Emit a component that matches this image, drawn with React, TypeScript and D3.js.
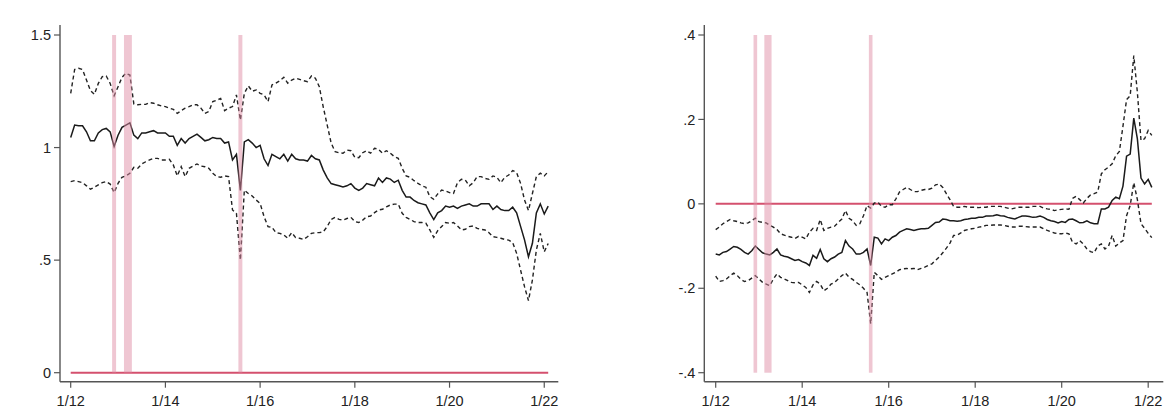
import React from "react";
import * as d3 from "d3";

// monthly index 0 = Jan 2012 ... 121 = Feb 2022
const xTickIdx = [0, 24, 48, 72, 96, 120];
const xTickLabels = ["1/12", "1/14", "1/16", "1/18", "1/20", "1/22"];

const leftYTicks = [0, 0.5, 1, 1.5];
const leftYLabels = ["0", ".5", "1", "1.5"];
const rightYTicks = [-0.4, -0.2, 0, 0.2, 0.4];
const rightYLabels = ["-.4", "-.2", "0", ".2", ".4"];

// shaded months (start, end indices)
const shadeStart = [11, 14, 43];
const shadeEnd = [11, 15, 43];

const midL = [1.045, 1.1, 1.097, 1.097, 1.07, 1.03, 1.03, 1.065, 1.08, 1.085, 1.07, 1.005, 1.055, 1.09, 1.1, 1.11, 1.055, 1.04, 1.065, 1.065, 1.07, 1.075, 1.065, 1.065, 1.065, 1.05, 1.05, 1.01, 1.04, 1.02, 1.04, 1.05, 1.06, 1.045, 1.03, 1.035, 1.045, 1.04, 1.04, 1.02, 1.025, 0.945, 0.97, 0.81, 1.025, 1.035, 1.02, 1.0, 1.01, 0.95, 0.92, 0.97, 0.96, 0.95, 0.97, 0.94, 0.97, 0.95, 0.945, 0.945, 0.94, 0.965, 0.95, 0.945, 0.9, 0.865, 0.84, 0.835, 0.83, 0.825, 0.83, 0.84, 0.82, 0.81, 0.82, 0.84, 0.835, 0.83, 0.865, 0.845, 0.865, 0.86, 0.845, 0.855, 0.81, 0.78, 0.78, 0.765, 0.755, 0.75, 0.745, 0.71, 0.68, 0.71, 0.72, 0.74, 0.735, 0.74, 0.73, 0.74, 0.745, 0.75, 0.74, 0.74, 0.75, 0.75, 0.75, 0.725, 0.74, 0.725, 0.72, 0.72, 0.735, 0.71, 0.65, 0.59, 0.515, 0.575, 0.71, 0.75, 0.705, 0.74];
const upL = [1.241, 1.347, 1.352, 1.347, 1.3, 1.253, 1.236, 1.285, 1.315, 1.318, 1.285, 1.23, 1.27, 1.312, 1.33, 1.322, 1.194, 1.19, 1.192, 1.192, 1.2, 1.197, 1.19, 1.185, 1.182, 1.175, 1.17, 1.152, 1.164, 1.175, 1.182, 1.19, 1.19, 1.175, 1.152, 1.16, 1.204, 1.21, 1.218, 1.164, 1.175, 1.182, 1.234, 1.122, 1.241, 1.274, 1.25, 1.256, 1.241, 1.234, 1.204, 1.278, 1.286, 1.297, 1.312, 1.286, 1.3, 1.308, 1.303, 1.297, 1.293, 1.318, 1.308, 1.27, 1.18, 1.1, 1.02, 0.982, 0.977, 0.975, 0.989, 0.986, 0.957, 0.955, 0.977, 0.986, 0.975, 0.997, 0.992, 0.975, 0.986, 0.975, 0.96, 0.952, 0.908, 0.874, 0.868, 0.853, 0.841, 0.83, 0.824, 0.782, 0.77, 0.794, 0.811, 0.807, 0.8, 0.796, 0.844, 0.859, 0.856, 0.83, 0.844, 0.871, 0.871, 0.863, 0.859, 0.874, 0.868, 0.844, 0.868, 0.878, 0.898, 0.889, 0.841, 0.767, 0.72, 0.796, 0.871, 0.886, 0.874, 0.893];
const loL = [0.849, 0.853, 0.849, 0.844, 0.83, 0.815, 0.824, 0.834, 0.844, 0.849, 0.838, 0.8, 0.841, 0.868, 0.874, 0.886, 0.912, 0.908, 0.927, 0.937, 0.945, 0.952, 0.952, 0.945, 0.945, 0.948, 0.923, 0.874, 0.915, 0.871, 0.908, 0.918, 0.927, 0.918, 0.915, 0.908, 0.886, 0.871, 0.868, 0.874, 0.871, 0.723, 0.708, 0.5, 0.811, 0.796, 0.785, 0.767, 0.752, 0.693, 0.649, 0.646, 0.622, 0.619, 0.612, 0.597, 0.622, 0.6, 0.597, 0.592, 0.604, 0.619, 0.622, 0.622, 0.626, 0.649, 0.681, 0.69, 0.681, 0.678, 0.685, 0.69, 0.671, 0.667, 0.678, 0.693, 0.696, 0.711, 0.723, 0.726, 0.737, 0.745, 0.749, 0.749, 0.708, 0.69, 0.681, 0.671, 0.667, 0.667, 0.664, 0.634, 0.601, 0.631, 0.649, 0.667, 0.664, 0.667, 0.652, 0.634, 0.637, 0.649, 0.652, 0.641, 0.637, 0.634, 0.622, 0.604, 0.601, 0.597, 0.592, 0.589, 0.578, 0.53, 0.456, 0.382, 0.32, 0.412, 0.545, 0.619, 0.537, 0.574];

const midR = [-0.119, -0.121, -0.115, -0.113, -0.107, -0.101, -0.103, -0.108, -0.115, -0.119, -0.111, -0.1, -0.108, -0.116, -0.119, -0.121, -0.115, -0.107, -0.121, -0.124, -0.126, -0.13, -0.134, -0.132, -0.137, -0.14, -0.146, -0.122, -0.129, -0.108, -0.13, -0.137, -0.13, -0.126, -0.119, -0.115, -0.087, -0.1, -0.107, -0.119, -0.119, -0.115, -0.107, -0.146, -0.079, -0.081, -0.095, -0.083, -0.087, -0.079, -0.075, -0.067, -0.063, -0.059, -0.061, -0.063, -0.061, -0.059, -0.059, -0.058, -0.051, -0.044, -0.043, -0.036, -0.037, -0.04, -0.04, -0.041, -0.04, -0.037, -0.036, -0.034, -0.034, -0.032, -0.032, -0.029, -0.029, -0.028, -0.026, -0.028, -0.029, -0.032, -0.034, -0.036, -0.032, -0.029, -0.029, -0.03, -0.032, -0.031, -0.029, -0.032, -0.037, -0.04, -0.042, -0.045, -0.042, -0.044, -0.037, -0.036, -0.04, -0.045, -0.044, -0.04, -0.045, -0.047, -0.047, -0.012, -0.012, -0.008, 0.008, 0.016, 0.012, 0.042, 0.113, 0.118, 0.203, 0.154, 0.061, 0.047, 0.058, 0.039];
const upR = [-0.061, -0.055, -0.047, -0.042, -0.037, -0.04, -0.042, -0.045, -0.047, -0.045, -0.04, -0.034, -0.042, -0.044, -0.045, -0.051, -0.055, -0.061, -0.071, -0.074, -0.077, -0.079, -0.082, -0.077, -0.079, -0.083, -0.067, -0.058, -0.063, -0.037, -0.063, -0.058, -0.055, -0.053, -0.044, -0.036, -0.016, -0.034, -0.04, -0.051, -0.047, -0.028, -0.004, -0.01, 0.002, 0.004, -0.006, -0.008, -0.002, -0.002, 0.012, 0.028, 0.034, 0.039, 0.034, 0.029, 0.029, 0.032, 0.034, 0.034, 0.037, 0.045, 0.047, 0.039, 0.024, 0.01, -0.006, -0.008, -0.008, -0.006, -0.008, -0.008, -0.008, -0.009, -0.008, -0.008, -0.006, -0.006, -0.006, -0.006, -0.008, -0.01, -0.012, -0.01, -0.008, -0.008, -0.008, -0.008, -0.006, -0.006, -0.006, -0.01, -0.012, -0.013, -0.016, -0.014, -0.013, -0.012, -0.013, 0.013, 0.018, 0.01, 0.002, 0.013, 0.021, 0.024, 0.028, 0.071, 0.081, 0.087, 0.095, 0.114, 0.124, 0.184, 0.247, 0.256, 0.351, 0.264, 0.15, 0.154, 0.174, 0.162];
const loR = [-0.171, -0.184, -0.182, -0.178, -0.17, -0.164, -0.17, -0.179, -0.184, -0.182, -0.176, -0.17, -0.178, -0.186, -0.19, -0.194, -0.178, -0.166, -0.174, -0.178, -0.182, -0.186, -0.187, -0.186, -0.192, -0.198, -0.21, -0.192, -0.184, -0.19, -0.206, -0.2, -0.19, -0.186, -0.178, -0.17, -0.164, -0.174, -0.179, -0.186, -0.192, -0.2, -0.21, -0.284, -0.162, -0.17, -0.179, -0.174, -0.17, -0.166, -0.162, -0.156, -0.154, -0.153, -0.154, -0.153, -0.156, -0.153, -0.15, -0.146, -0.142, -0.134, -0.126, -0.116, -0.105, -0.093, -0.075, -0.074, -0.069, -0.063, -0.061, -0.059, -0.058, -0.055, -0.054, -0.051, -0.051, -0.05, -0.05, -0.05, -0.051, -0.053, -0.055, -0.055, -0.053, -0.053, -0.054, -0.055, -0.055, -0.055, -0.055, -0.059, -0.063, -0.066, -0.069, -0.071, -0.071, -0.069, -0.071, -0.091, -0.095, -0.087, -0.095, -0.107, -0.113, -0.116, -0.1, -0.095, -0.107, -0.1, -0.075, -0.1, -0.093, -0.087, -0.028, -0.004, 0.05, 0.01, -0.047, -0.058, -0.07, -0.08];

const FONT = "'Liberation Sans', Arial, sans-serif";

type PanelProps = {
  x0: number; x1: number; yAxisX: number; axisRight: number;
  yDomain: [number, number]; yTicks: number[]; yLabels: string[];
  mid: number[]; up: number[]; lo: number[];
};

function Panel(p: PanelProps) {
  const n = p.mid.length;
  const x = d3.scaleLinear().domain([0, n - 1]).range([p.x0, p.x1]);
  const y = d3.scaleLinear().domain(p.yDomain).range([372.7, 35]);
  const line = d3.line<number>().x((_, i) => x(i)).y((d) => y(d));
  const axisY = 381.7;
  const monthW = x(1) - x(0);
  return (
    <g>
      <line x1={x(0)} x2={x(n - 1)} y1={y(0)} y2={y(0)} stroke="#d4506e" strokeWidth={2} />
      <path d={line(p.up) || ""} fill="none" stroke="#222" strokeWidth={1.4} strokeDasharray="4,3" />
      <path d={line(p.lo) || ""} fill="none" stroke="#222" strokeWidth={1.4} strokeDasharray="4,3" />
      <path d={line(p.mid) || ""} fill="none" stroke="#1a1a1a" strokeWidth={1.5} />
      {shadeStart.map((s, k) => (
        <rect key={k} x={x(s) - monthW / 2} width={x(shadeEnd[k]) - x(s) + monthW}
          y={y(p.yDomain[1])} height={y(p.yDomain[0]) - y(p.yDomain[1])}
          fill="#df8ea5" opacity={0.5} />
      ))}
      <line x1={p.yAxisX} x2={p.yAxisX} y1={25} y2={axisY} stroke="#555" strokeWidth={1.4} />
      <line x1={p.yAxisX} x2={p.axisRight} y1={axisY} y2={axisY} stroke="#555" strokeWidth={1.4} />
      {p.yTicks.map((t, k) => (
        <g key={k}>
          <line x1={p.yAxisX - 6} x2={p.yAxisX} y1={y(t)} y2={y(t)} stroke="#555" strokeWidth={1.2} />
          <text x={p.yAxisX - 9} y={y(t)} dy="0.35em" textAnchor="end" fontFamily={FONT} fontSize={14.5} fill="#222">{p.yLabels[k]}</text>
        </g>
      ))}
      {xTickIdx.map((t, k) => (
        <g key={k}>
          <line x1={x(t)} x2={x(t)} y1={axisY} y2={axisY + 6} stroke="#555" strokeWidth={1.2} />
          <text x={x(t)} y={axisY + 24} textAnchor="middle" fontFamily={FONT} fontSize={14.5} fill="#222">{xTickLabels[k]}</text>
        </g>
      ))}
    </g>
  );
}

export default function App() {
  return (
    <svg width={1173} height={414} style={{ position: "absolute", left: 0, top: 0, background: "#fff" }}>
      <rect x={0} y={0} width={1173} height={414} fill="#fff" />
      <Panel x0={70.7} x1={548.2} yAxisX={60} axisRight={558.3}
        yDomain={[0, 1.5]} yTicks={leftYTicks} yLabels={leftYLabels}
        mid={midL} up={upL} lo={loL} />
      <Panel x0={715.7} x1={1151.8} yAxisX={704.3} axisRight={1163.3}
        yDomain={[-0.4, 0.4]} yTicks={rightYTicks} yLabels={rightYLabels}
        mid={midR} up={upR} lo={loR} />
    </svg>
  );
}
